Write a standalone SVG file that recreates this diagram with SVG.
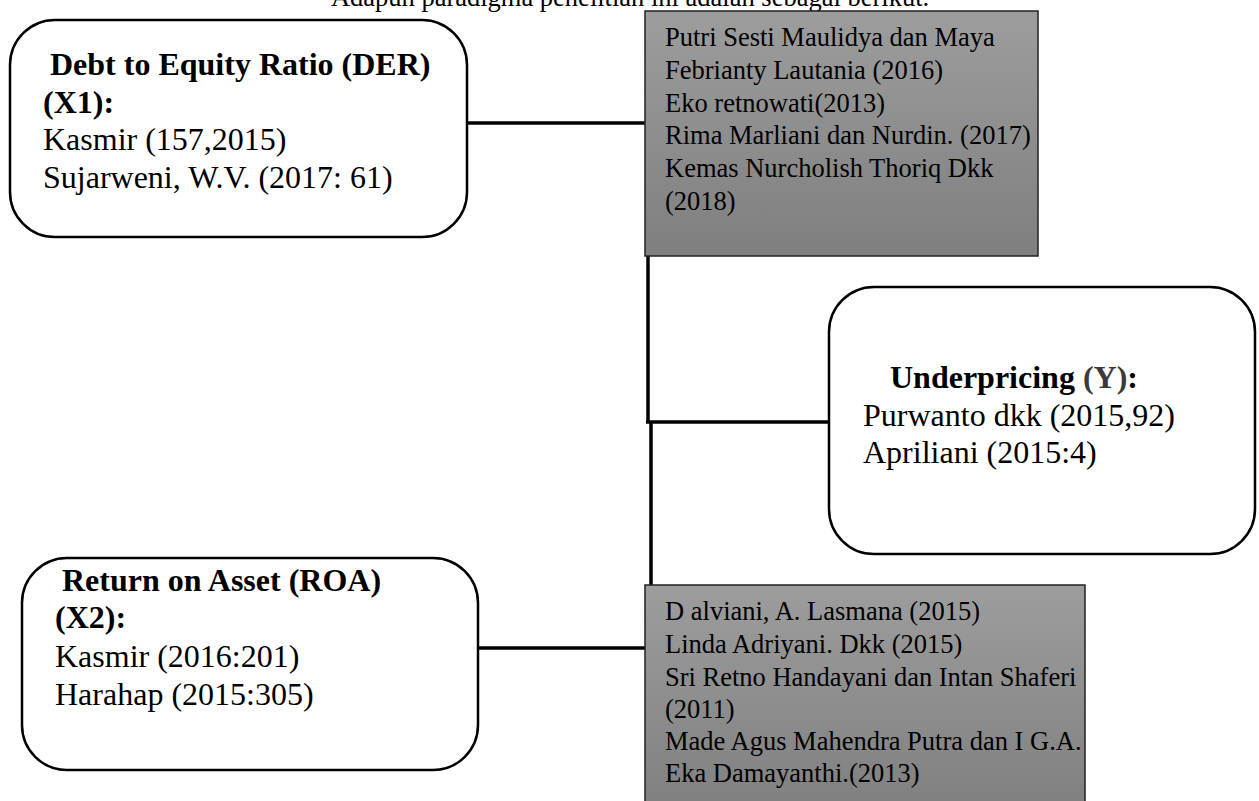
<svg xmlns="http://www.w3.org/2000/svg" width="1259" height="801" viewBox="0 0 1259 801">
  <style>
    .t { font-family: "Liberation Serif", "Times New Roman", serif; fill: #000; }
    .big { font-size: 32px; }
    .small { font-size: 26.5px; }
    .b { font-weight: bold; }
    .rbox { fill: #fff; stroke: #000; stroke-width: 2.5; }
    .gbox { fill: url(#gray); stroke: #222; stroke-width: 1.5; }
    .conn { stroke: #000; stroke-width: 3.5; fill: none; }
  </style>
  <defs>
    <linearGradient id="gray" x1="0" y1="0" x2="0" y2="1">
      <stop offset="0" stop-color="#9d9d9d"/>
      <stop offset="1" stop-color="#7f7f7f"/>
    </linearGradient>
  </defs>
  <rect width="1259" height="801" fill="#fff"/>

  <text class="t small" x="630" y="6" text-anchor="middle">Adapun paradigma penelitian ini adalah sebagai berikut.</text>

  <g id="connectors">
    <line class="conn" x1="467" y1="123" x2="646" y2="123"/>
    <line class="conn" x1="648" y1="256" x2="648" y2="422"/>
    <line class="conn" x1="646" y1="422" x2="829" y2="422"/>
    <line class="conn" x1="651" y1="422" x2="651" y2="585"/>
    <line class="conn" x1="478" y1="648" x2="645" y2="648"/>
  </g>

  <g id="der">
    <rect class="rbox" x="10" y="20" width="457" height="217" rx="45" ry="45"/>
    <text class="t big b" x="50" y="75">Debt to Equity Ratio (DER)</text>
    <text class="t big b" x="43" y="113">(X1):</text>
    <text class="t big" x="43" y="150">Kasmir (157,2015)</text>
    <text class="t big" x="43" y="188">Sujarweni, W.V. (2017: 61)</text>
  </g>

  <g id="ref-der">
    <rect class="gbox" x="645" y="11" width="393" height="245"/>
    <text class="t small" x="665" y="46">Putri Sesti Maulidya dan Maya</text>
    <text class="t small" x="665" y="79">Febrianty Lautania (2016)</text>
    <text class="t small" x="665" y="112">Eko retnowati(2013)</text>
    <text class="t small" x="665" y="144">Rima Marliani dan Nurdin. (2017)</text>
    <text class="t small" x="665" y="177">Kemas Nurcholish Thoriq Dkk</text>
    <text class="t small" x="665" y="210">(2018)</text>
  </g>

  <g id="underpricing">
    <rect class="rbox" x="829" y="287" width="426" height="267" rx="45" ry="45"/>
    <text class="t big b" x="890" y="388">Underpricing <tspan fill="#3a3a3a">(Y)</tspan>:</text>
    <text class="t big" x="863" y="426">Purwanto dkk (2015,92)</text>
    <text class="t big" x="863" y="463">Apriliani (2015:4)</text>
  </g>

  <g id="roa">
    <rect class="rbox" x="22" y="558" width="456" height="212" rx="45" ry="45"/>
    <text class="t big b" x="62" y="591">Return on Asset (ROA)</text>
    <text class="t big b" x="55" y="628">(X2):</text>
    <text class="t big" x="55" y="667">Kasmir (2016:201)</text>
    <text class="t big" x="55" y="705">Harahap (2015:305)</text>
  </g>

  <g id="ref-roa">
    <rect class="gbox" x="645" y="585" width="440" height="230"/>
    <text class="t small" x="665" y="620">D alviani, A. Lasmana (2015)</text>
    <text class="t small" x="665" y="653">Linda Adriyani. Dkk (2015)</text>
    <text class="t small" x="665" y="686">Sri Retno Handayani dan Intan Shaferi</text>
    <text class="t small" x="665" y="718">(2011)</text>
    <text class="t small" x="665" y="750">Made Agus Mahendra Putra dan I G.A.</text>
    <text class="t small" x="665" y="782">Eka Damayanthi.(2013)</text>
  </g>
</svg>
